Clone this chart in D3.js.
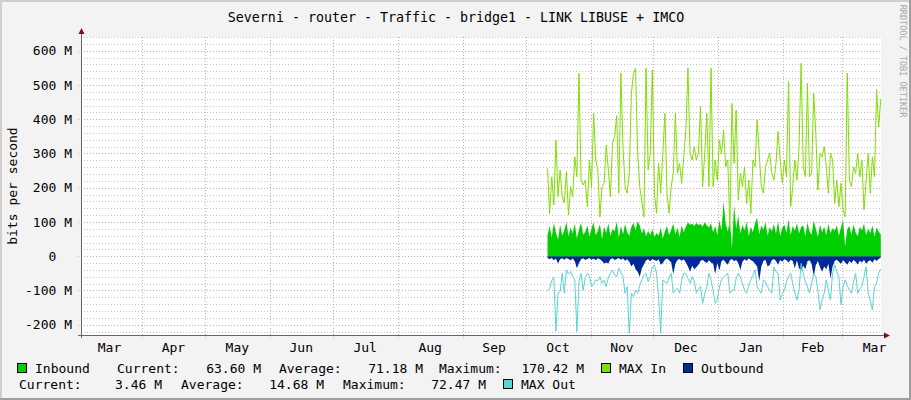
<!DOCTYPE html>
<html>
<head>
<meta charset="utf-8">
<script src="https://cdn.jsdelivr.net/npm/d3@7/dist/d3.min.js"></script>
<style>
  body { margin: 0; background: #f3f3f3; }
  svg text { font-family: 'DejaVu Sans Mono', monospace; white-space: pre; fill: #000; }
</style>
</head>
<body>
<svg id="chart" width="911" height="400"></svg>
<script>
// daily samples, first one on 11 Oct, values in Mbit/s
var inbound = [62, 88, 55, 97, 70, 48, 92, 60, 75, 100, 58, 84, 66, 95, 52, 78, 98, 63, 71, 90,
    57, 82, 99, 61, 74, 93, 50, 86, 68, 96, 59, 80, 72, 101, 55, 88, 64, 94, 70, 60,
    85, 98, 76, 102, 90, 66, 82, 58, 74, 62, 79, 56, 68, 60, 84, 52, 73, 88, 61, 77,
    95, 64, 83, 57, 90, 70, 86, 99, 92, 95, 88, 97, 91, 94, 86, 99, 90, 84, 96, 70,
    88, 62, 105, 76, 159, 95, 72, 104, 24, 150, 80, 118, 66, 92, 74, 101, 58, 86, 70, 97,
    112, 64, 90, 77, 99, 60, 85, 72, 94, 66, 102, 58, 83, 92, 68, 108, 62, 88, 74, 96,
    66, 85, 90, 58, 98, 73, 62, 104, 80, 56, 92, 70, 86, 61, 95, 67, 82, 74, 90, 60,
    84, 106, 30, 78, 88, 63, 92, 70, 58, 86, 75, 95, 62, 80, 68, 90, 57, 84, 72, 63.6]
var maxIn = [256, 125, 232, 150, 339, 174, 252, 174, 155, 247, 120, 203, 174, 290, 232, 534, 222, 208, 222, 145,
    281, 203, 417, 281, 252, 115, 203, 213, 325, 252, 174, 330, 349, 410, 184, 534, 320, 203, 184, 243,
    475, 534, 548, 300, 203, 160, 115, 549, 252, 300, 544, 184, 125, 271, 184, 300, 417, 184, 125, 203,
    242, 417, 242, 271, 213, 290, 368, 549, 300, 281, 320, 281, 300, 437, 203, 300, 417, 203, 549, 203,
    281, 222, 339, 300, 368, 261, 281, 86, 446, 271, 427, 164, 242, 203, 261, 154, 222, 125, 281, 261,
    398, 300, 203, 184, 261, 281, 300, 242, 222, 271, 364, 281, 213, 281, 232, 510, 145, 203, 281, 222,
    320, 563, 261, 232, 505, 232, 242, 475, 359, 193, 300, 290, 320, 261, 184, 300, 281, 154, 222, 145,
    213, 135, 115, 534, 222, 203, 261, 242, 300, 232, 281, 135, 222, 300, 184, 290, 232, 486, 378, 459]
var outbound = [6, 8, 5, 12, 7, 21, 9, 6, 10, 5, 8, 12, 7, 15, 35, 20, 9, 6, 11, 8,
    5, 10, 7, 12, 6, 9, 14, 21, 18, 21, 9, 6, 11, 8, 5, 10, 7, 13, 9, 16,
    30, 22, 38, 45, 60, 35, 24, 12, 9, 15, 8, 11, 14, 9, 25, 20, 10, 7, 12, 18,
    52, 22, 11, 8, 13, 9, 18, 30, 45, 28, 38, 32, 25, 14, 10, 16, 20, 12, 18, 22,
    52, 20, 42, 15, 10, 18, 25, 12, 8, 15, 11, 20, 40, 16, 9, 13, 7, 11, 15, 22,
    30, 72, 30, 14, 10, 30, 26, 12, 8, 14, 25, 11, 16, 9, 12, 18, 10, 14, 35, 12,
    36, 40, 28, 38, 15, 12, 22, 60, 26, 14, 32, 45, 30, 38, 22, 65, 30, 14, 10, 16,
    22, 12, 18, 25, 14, 20, 11, 16, 24, 13, 18, 10, 22, 15, 12, 19, 9, 14, 8, 3.46]
var maxOut = [99, 94, 72, 62, 219, 108, 103, 50, 108, 40, 52, 45, 60, 69, 220, 74, 50, 99, 62, 50,
    58, 89, 80, 69, 72, 60, 79, 70, 89, 62, 50, 40, 55, 60, 35, 48, 60, 108, 89, 225,
    108, 118, 100, 108, 85, 69, 55, 50, 74, 60, 30, 26, 50, 120, 225, 69, 75, 79, 62, 50,
    108, 99, 94, 108, 70, 50, 50, 65, 79, 60, 72, 108, 95, 89, 138, 110, 89, 50, 69, 100,
    138, 128, 90, 69, 60, 55, 50, 108, 99, 99, 65, 50, 60, 80, 99, 108, 85, 69, 55, 40,
    89, 100, 108, 69, 75, 89, 100, 108, 31, 45, 50, 128, 110, 99, 75, 60, 50, 80, 108, 128,
    99, 21, 50, 75, 89, 108, 80, 50, 60, 100, 156, 128, 108, 69, 100, 128, 50, 25, 45, 60,
    141, 89, 69, 85, 99, 108, 75, 50, 108, 95, 89, 60, 31, 108, 130, 157, 89, 79, 50, 38]

var yTicks = [-200, -100, 0, 100, 200, 300, 400, 500, 600]
var yTickLabels = ['-200 M', '-100 M', '0  ', '100 M', '200 M', '300 M', '400 M', '500 M', '600 M']

var titleText = 'Severni - router - Traffic - bridge1 - LINK LIBUSE + IMCO'
var yTitle = 'bits per second'
var watermark = 'RRDTOOL / TOBI OETIKER'

var legendLine1 = ['Inbound', 'Current:', '63.60 M', 'Average:', '71.18 M', 'Maximum:', '170.42 M', 'MAX In', 'Outbound']
var legendLine2 = ['Current:', '3.46 M', 'Average:', '14.68 M', 'Maximum:', '72.47 M', 'MAX Out']

var colInbound = '#00CF00'
var colMaxIn = '#7EE000'
var colOutbound = '#002A97'
var colMaxOut = '#55D6D3'

var dataStart = Date.UTC(2014, 9, 11, 12)
var dayMs = 86400000

var svg = d3.select('#chart')
var plotLeft = 81, plotRight = 881, plotTop = 37, plotBottom = 335

var x = d3.scaleUtc()
    .domain([new Date(Date.UTC(2014, 2, 2, 21, 30)), new Date(Date.UTC(2015, 2, 19, 14, 30))])
    .range([plotLeft, plotRight])
var y = d3.scaleLinear()
    .domain([-230, 640])
    .range([plotBottom, plotTop])

function dayDate(i) {
    return new Date(dataStart + i * dayMs)
}
function crisp(v) {
    return Math.round(v) + 0.5
}

// background and 3d shade
svg.append('rect').attr('width', 911).attr('height', 400).attr('fill', '#f3f3f3')
svg.append('rect').attr('x', 0).attr('y', 0).attr('width', 911).attr('height', 2).attr('fill', '#cfcfcf')
svg.append('rect').attr('x', 0).attr('y', 0).attr('width', 2).attr('height', 400).attr('fill', '#cfcfcf')
svg.append('rect').attr('x', 0).attr('y', 398).attr('width', 911).attr('height', 2).attr('fill', '#9e9e9e')
svg.append('rect').attr('x', 909).attr('y', 0).attr('width', 2).attr('height', 400).attr('fill', '#9e9e9e')

svg.append('rect')
    .attr('x', plotLeft).attr('y', plotTop)
    .attr('width', plotRight - plotLeft).attr('height', plotBottom - plotTop)
    .attr('fill', '#ffffff')

// grid
var grid = svg.append('g').attr('shape-rendering', 'crispEdges')
var minorVals = d3.range(-220, 641, 20).filter(function (v) { return v % 100 !== 0 })
grid.selectAll('.minor')
    .data(minorVals)
    .enter()
    .append('line')
    .attr('x1', plotLeft).attr('x2', plotRight)
    .attr('y1', function (d) { return crisp(y(d)) })
    .attr('y2', function (d) { return crisp(y(d)) })
    .attr('stroke', '#c4c4c4')
    .attr('stroke-dasharray', '1,2')

grid.selectAll('.major')
    .data(yTicks)
    .enter()
    .append('line')
    .attr('x1', plotLeft - 3).attr('x2', plotRight)
    .attr('y1', function (d) { return crisp(y(d)) })
    .attr('y2', function (d) { return crisp(y(d)) })
    .attr('stroke', '#ec9c9c')
    .attr('stroke-dasharray', '1,2')

var monthStarts = d3.utcMonth.range(x.domain()[0], x.domain()[1])
grid.selectAll('.vmajor')
    .data(monthStarts)
    .enter()
    .append('line')
    .attr('x1', function (d) { return crisp(x(d)) })
    .attr('x2', function (d) { return crisp(x(d)) })
    .attr('y1', plotTop).attr('y2', plotBottom + 3)
    .attr('stroke', '#ec9c9c')
    .attr('stroke-dasharray', '1,2')

// series
var inArea = d3.area()
    .x(function (d, i) { return x(dayDate(i)) })
    .y0(y(0))
    .y1(function (d) { return y(d) })
svg.append('path').datum(inbound).attr('d', inArea).attr('fill', colInbound)

var inLine = d3.line()
    .x(function (d, i) { return x(dayDate(i)) })
    .y(function (d) { return y(d) })
svg.append('path').datum(maxIn).attr('d', inLine)
    .attr('fill', 'none').attr('stroke', colMaxIn).attr('stroke-width', 1)

var outArea = d3.area()
    .x(function (d, i) { return x(dayDate(i)) })
    .y0(y(0))
    .y1(function (d) { return y(-d) })
svg.append('path').datum(outbound).attr('d', outArea).attr('fill', colOutbound)

var outLine = d3.line()
    .x(function (d, i) { return x(dayDate(i)) })
    .y(function (d) { return y(-d) })
svg.append('path').datum(maxOut).attr('d', outLine)
    .attr('fill', 'none').attr('stroke', colMaxOut).attr('stroke-width', 1)

// axes
var axisG = svg.append('g').attr('shape-rendering', 'crispEdges')
axisG.append('line')
    .attr('x1', plotLeft - 3).attr('x2', plotRight + 4)
    .attr('y1', crisp(plotBottom)).attr('y2', crisp(plotBottom))
    .attr('stroke', '#666666')
axisG.append('line')
    .attr('x1', crisp(plotLeft)).attr('x2', crisp(plotLeft))
    .attr('y1', plotBottom + 3).attr('y2', plotTop - 4)
    .attr('stroke', '#666666')
svg.append('path')
    .attr('d', 'M' + (plotRight + 3) + ',' + (plotBottom - 2.5) + 'l6,3l-6,3z')
    .attr('fill', '#7f1010')
svg.append('path')
    .attr('d', 'M' + (plotLeft - 2.5) + ',' + (plotTop - 3) + 'l3,-6l3,6z')
    .attr('fill', '#7f1010')

// y labels
svg.selectAll('.ylab')
    .data(yTicks)
    .enter()
    .append('text')
    .attr('x', 72)
    .attr('y', function (d) { return y(d) })
    .attr('dy', '0.35em')
    .attr('text-anchor', 'end')
    .style('font-size', '13px')
    .text(function (d, i) { return yTickLabels[i] })

svg.append('text')
    .attr('transform', 'translate(12,186) rotate(-90)')
    .attr('text-anchor', 'middle')
    .attr('dy', '0.35em')
    .style('font-size', '13px')
    .text(yTitle)

// month labels, centred on each month
var labelMonths = d3.utcMonth.range(d3.utcMonth.floor(x.domain()[0]), x.domain()[1])
svg.selectAll('.xlab')
    .data(labelMonths)
    .enter()
    .append('text')
    .attr('x', function (d) { return (x(d) + x(d3.utcMonth.offset(d, 1))) / 2 })
    .attr('y', 347)
    .attr('dy', '0.35em')
    .attr('text-anchor', 'middle')
    .style('font-size', '13px')
    .text(function (d) { return d3.utcFormat('%b')(d) })

// title and watermark
svg.append('text')
    .attr('x', 456).attr('y', 17).attr('dy', '0.35em')
    .attr('text-anchor', 'middle')
    .style('font-size', '13.3px')
    .text(titleText)

svg.append('text')
    .attr('transform', 'translate(903,61) rotate(90)')
    .attr('text-anchor', 'middle')
    .attr('dy', '0.35em')
    .style('font-size', '8.5px')
    .style('fill', '#a8a8a8')
    .text(watermark)

// legend
function swatch(px, py, col) {
    svg.append('rect')
        .attr('x', px + 0.5).attr('y', py + 0.5)
        .attr('width', 9).attr('height', 9)
        .attr('fill', col).attr('stroke', '#000')
        .attr('shape-rendering', 'crispEdges')
}
function legText(px, py, str, anchor) {
    svg.append('text')
        .attr('x', px).attr('y', py).attr('dy', '0.35em')
        .attr('text-anchor', anchor || 'start')
        .style('font-size', '13px')
        .text(str)
}
var row1 = 368, row2 = 384
swatch(17, row1 - 5, colInbound)
legText(35, row1, legendLine1[0])
legText(117, row1, legendLine1[1])
legText(261, row1, legendLine1[2], 'end')
legText(279, row1, legendLine1[3])
legText(423, row1, legendLine1[4], 'end')
legText(439, row1, legendLine1[5])
legText(584, row1, legendLine1[6], 'end')
swatch(601, row1 - 5, colMaxIn)
legText(619, row1, legendLine1[7])
swatch(683, row1 - 5, colOutbound)
legText(701, row1, legendLine1[8])

legText(19, row2, legendLine2[0])
legText(162, row2, legendLine2[1], 'end')
legText(181, row2, legendLine2[2])
legText(324, row2, legendLine2[3], 'end')
legText(343, row2, legendLine2[4])
legText(486, row2, legendLine2[5], 'end')
swatch(503, row2 - 5, colMaxOut)
legText(521, row2, legendLine2[6])
</script>
</body>
</html>
